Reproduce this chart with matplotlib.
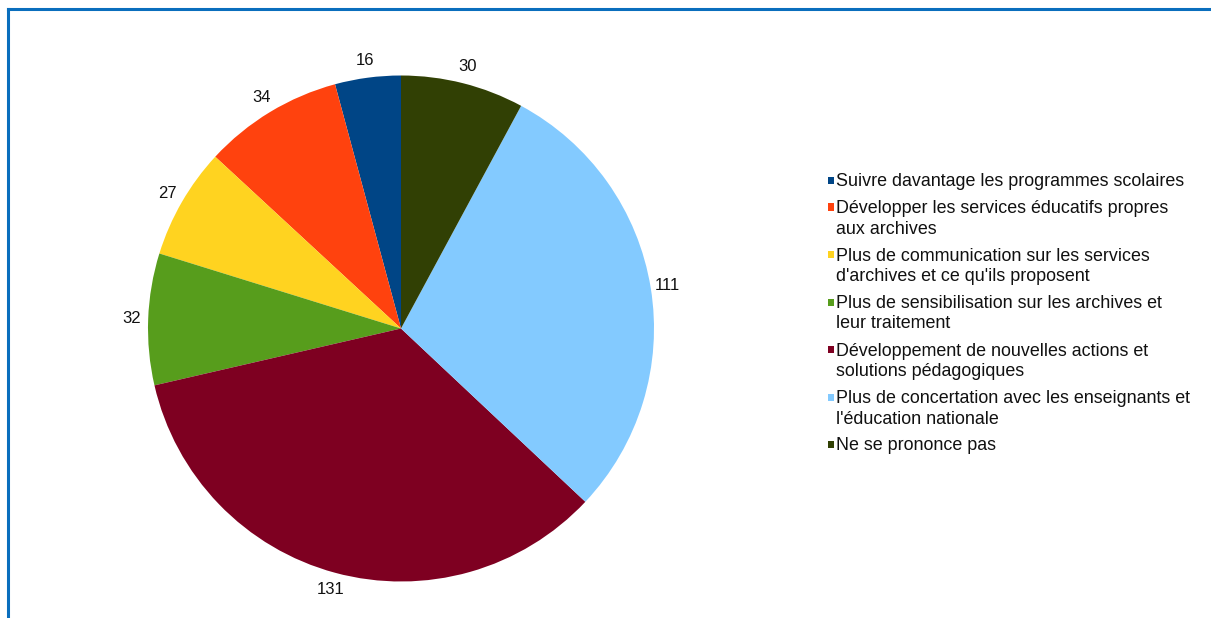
import matplotlib
matplotlib.use('Agg')
import matplotlib.pyplot as plt
from matplotlib.patches import Rectangle
from matplotlib.lines import Line2D

# Reponses (nombre d'etablissements)
categories = [
    "Suivre davantage les programmes scolaires",
    "Développer les services éducatifs propres\naux archives",
    "Plus de communication sur les services\nd'archives et ce qu'ils proposent",
    "Plus de sensibilisation sur les archives et\nleur traitement",
    "Développement de nouvelles actions et\nsolutions pédagogiques",
    "Plus de concertation avec les enseignants et\nl'éducation nationale",
    "Ne se prononce pas",
]
valeurs = [16, 34, 27, 32, 131, 111, 30]
couleurs = ['#004586', '#ff420e', '#ffd320', '#579d1c', '#7e0021', '#83caff', '#314004']

W, H = 1211, 618
plt.rcParams['font.family'] = ['Liberation Sans', 'DejaVu Sans']

fig = plt.figure(figsize=(W / 100, H / 100), dpi=100)

# cadre bleu (haut et gauche)
fig.add_artist(Line2D([8 / W, 8 / W], [0, 1 - 9 / H], transform=fig.transFigure,
                      color='#0a6ebd', lw=2.2))
fig.add_artist(Line2D([8 / W, 1], [1 - 9 / H, 1 - 9 / H], transform=fig.transFigure,
                      color='#0a6ebd', lw=2.2))

# camembert
cx, cy, r = 401, H - 328.5, 253
ax = fig.add_axes([(cx - r) / W, (cy - r) / H, 2 * r / W, 2 * r / H])
wedges, textes = ax.pie(valeurs, colors=couleurs, startangle=90, counterclock=True,
                        labels=[str(v) for v in valeurs], labeldistance=1.067,
                        wedgeprops=dict(linewidth=0),
                        textprops=dict(fontsize=12, color='#111111'))
for t in textes:
    t.set_ha('center')
    t.set_va('center')
ax.set_xlim(-1, 1)
ax.set_ylim(-1, 1)
ax.set_aspect('equal')

# legende
y = 180.0
for cat, col in zip(categories, couleurs):
    fig.add_artist(Rectangle(((827.5) / W, 1 - (y + 3.5) / H), 6.5 / W, 7 / H,
                             transform=fig.transFigure, color=col, lw=0))
    lignes = cat.split('\n')
    for i, l in enumerate(lignes):
        fig.text(835.7 / W, 1 - (y + 20.5 * i + 6) / H, l, fontsize=12.9,
                 color='#111111', ha='left', va='baseline')
    y += 20.5 * len(lignes) + 6.5

fig.savefig('out.png', dpi=100, facecolor='white')
